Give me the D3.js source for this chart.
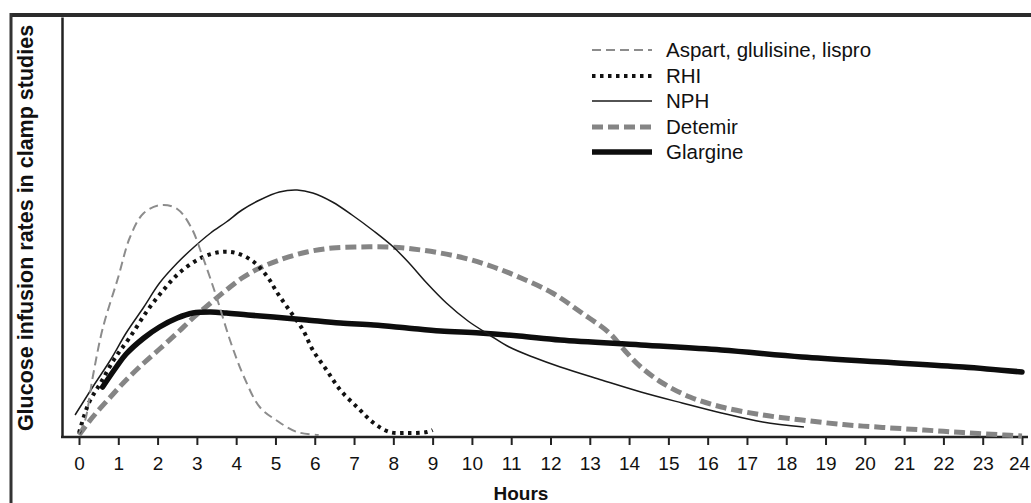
<!DOCTYPE html>
<html>
<head>
<meta charset="utf-8">
<script src="https://cdn.jsdelivr.net/npm/d3@7"></script>
<style>
  html, body { margin: 0; padding: 0; background: #fff; }
  svg { display: block; font-family: "Liberation Sans", Arial, Helvetica, sans-serif; }
</style>
</head>
<body>
<svg id="chart" width="1031" height="503"></svg>
<script>
// ---- data (hours, glucose infusion rate in arbitrary units) ----
const hourTicks = d3.range(0, 25);
const seriesNames = ["Aspart, glulisine, lispro", "RHI", "NPH", "Detemir", "Glargine"];

const aspartHours  = [0, 0.15, 0.35, 0.6, 1.0, 1.3, 1.65, 2.1, 2.5, 2.85, 3.15, 3.5, 3.85, 4.2, 4.6, 5.05, 5.55, 6.1];
const aspartValues = [1, 4, 15, 27, 40, 50, 56, 58, 57, 52.5, 45, 35, 24, 15, 7.5, 4, 1.25, 0.5];

const rhiHours  = [0, 0.25, 0.55, 0.9, 1.3, 1.75, 2.15, 2.55, 3.1, 3.6, 4.0, 4.45, 4.8, 5.05, 5.35, 5.7, 5.95, 6.3, 6.65, 7.1, 7.5, 7.9, 8.35, 8.85, 9.0];
const rhiValues = [1, 8.5, 13.5, 19.5, 25, 31.75, 36.75, 41, 44.75, 46.25, 46, 43.75, 40, 36, 31.75, 26.75, 21.75, 16.75, 11.75, 7.25, 3.5, 1.25, 1, 1.25, 1.75];

const nphHours  = [-0.1, 0.35, 0.8, 1.2, 1.65, 2.05, 2.5, 2.9, 3.35, 3.75, 4.15, 4.6, 5.1, 5.55, 5.95, 6.45, 6.95, 7.5, 8.0, 8.4, 8.85, 9.35, 9.9, 10.45, 10.95, 11.55, 12.25, 13.3, 14.3, 15.35, 16.35, 17.4, 18.45];
const nphValues = [5.5, 12.5, 19.25, 26, 32.5, 38.5, 43.5, 47.25, 51, 53.75, 56.75, 59.25, 61.25, 61.75, 61, 58.75, 55.5, 51.5, 47.5, 43.5, 38.5, 33.5, 29, 25.5, 22.5, 20, 17.5, 14.25, 11.25, 8.5, 6, 3.75, 2.5];

const detemirHours  = [0, 0.35, 0.8, 1.2, 1.65, 2.05, 2.5, 2.9, 3.35, 3.75, 4.15, 4.6, 5.1, 5.8, 6.45, 7.15, 7.85, 8.5, 9.2, 9.9, 10.55, 11.25, 12.05, 12.8, 13.5, 13.9, 14.3, 14.85, 15.55, 16.35, 17.4, 18.4, 19.45, 20.45, 21.5, 22.5, 23.55, 24];
const detemirValues = [0.5, 5, 10, 14.25, 18.5, 22, 26, 29.75, 33.5, 36.75, 39.75, 42.25, 44.25, 46.25, 47.25, 47.5, 47.5, 47, 46, 44.5, 42.5, 39.75, 36, 31, 26, 21.5, 17.5, 13.5, 10, 7.5, 5.5, 4.25, 3.1, 2.4, 1.75, 1.1, 0.5, 0.25];

const glargineHours  = [0.6, 0.95, 1.2, 1.65, 2.05, 2.5, 2.9, 3.35, 3.75, 4.3, 4.95, 5.8, 6.65, 7.5, 8.35, 9.2, 10.2, 11.2, 12.25, 14.3, 16.35, 18.4, 20.45, 22.5, 24];
const glargineValues = [12.5, 17.5, 20.75, 24.75, 27.5, 29.75, 31, 31.25, 31, 30.5, 30, 29.25, 28.5, 28, 27.25, 26.5, 26, 25.25, 24.25, 23, 21.75, 20, 18.75, 17.5, 16.25];

// ---- styles per series ----
const styles = [
  { color: "#8c8c8c", width: 2,   dash: "9,5"  , cap: "butt" },
  { color: "#111111", width: 4,   dash: "3.5,4.5", cap: "butt" },
  { color: "#1a1a1a", width: 1.5, dash: null   , cap: "butt" },
  { color: "#858585", width: 5,   dash: "11,5" , cap: "butt" },
  { color: "#0d0d0d", width: 5.5, dash: null   , cap: "round" }
];
const hoursList  = [aspartHours, rhiHours, nphHours, detemirHours, glargineHours];
const valuesList = [aspartValues, rhiValues, nphValues, detemirValues, glargineValues];

const svg = d3.select("#chart");
const x = d3.scaleLinear().domain([0, 24]).range([79, 1022]);
const y = d3.scaleLinear().domain([0, 105]).range([437, 17]);

// outer frame (only top & left visible)
svg.append("line").attr("x1", 10).attr("y1", 15).attr("x2", 1031).attr("y2", 15)
  .attr("stroke", "#2b2b2b").attr("stroke-width", 4);
svg.append("line").attr("x1", 11).attr("y1", 13).attr("x2", 11).attr("y2", 503)
  .attr("stroke", "#333").attr("stroke-width", 3);

// y axis (line only)
svg.append("g").attr("transform", "translate(62,0)")
  .call(d3.axisLeft(y).tickValues([]).tickSizeOuter(0))
  .call(g => g.select(".domain").attr("stroke", "#222").attr("stroke-width", 2.5));

// x axis
svg.append("line").attr("x1", 61).attr("x2", 1028).attr("y1", 437).attr("y2", 437)
  .attr("stroke", "#222").attr("stroke-width", 2.5);
const xAxis = svg.append("g").attr("transform", "translate(0,437)")
  .call(d3.axisBottom(x).tickValues(hourTicks).tickSize(8).tickPadding(12).tickFormat(d3.format("d")));
xAxis.select(".domain").remove();
xAxis.selectAll(".tick line").attr("stroke", "#222").attr("stroke-width", 2);
xAxis.selectAll(".tick text").attr("fill", "#111").style("font-size", "19px")
  .style("font-family", "'Liberation Sans', Arial, sans-serif")
  .attr("dx", d => d === 24 ? -3 : 0);

// axis titles
svg.append("text").attr("transform", "translate(33,228) rotate(-90)")
  .attr("text-anchor", "middle").style("font-size", "21.5px").style("font-weight", "bold")
  .attr("fill", "#111").text("Glucose infusion rates in clamp studies");
svg.append("text").attr("x", 521).attr("y", 500).attr("text-anchor", "middle")
  .style("font-size", "19px").style("font-weight", "bold").attr("fill", "#111").text("Hours");

// curves
const line = d3.line().x(d => x(d[0])).y(d => y(d[1])).curve(d3.curveCatmullRom.alpha(0.5));
const drawOrder = [3, 4, 2, 1, 0];
drawOrder.forEach(i => {
  const pts = hoursList[i].map((h, k) => [h, valuesList[i][k]]);
  const p = svg.append("path").datum(pts).attr("d", line)
    .attr("fill", "none").attr("stroke", styles[i].color)
    .attr("stroke-width", styles[i].width).attr("stroke-linecap", styles[i].cap)
    .attr("stroke-linejoin", "round");
  if (styles[i].dash) p.attr("stroke-dasharray", styles[i].dash);
});

// legend
const legendRowY = [50, 76, 101, 127, 152];
const lg = svg.append("g");
seriesNames.forEach((name, i) => {
  const s = styles[i];
  const l = lg.append("line").attr("x1", 592).attr("x2", 652)
    .attr("y1", legendRowY[i]).attr("y2", legendRowY[i])
    .attr("stroke", s.color).attr("stroke-width", s.width);
  if (s.dash) l.attr("stroke-dasharray", s.dash);
  lg.append("text").attr("x", 666).attr("y", legendRowY[i] + 7)
    .style("font-size", "20.5px").attr("fill", "#111").text(name);
});
</script>
</body>
</html>
